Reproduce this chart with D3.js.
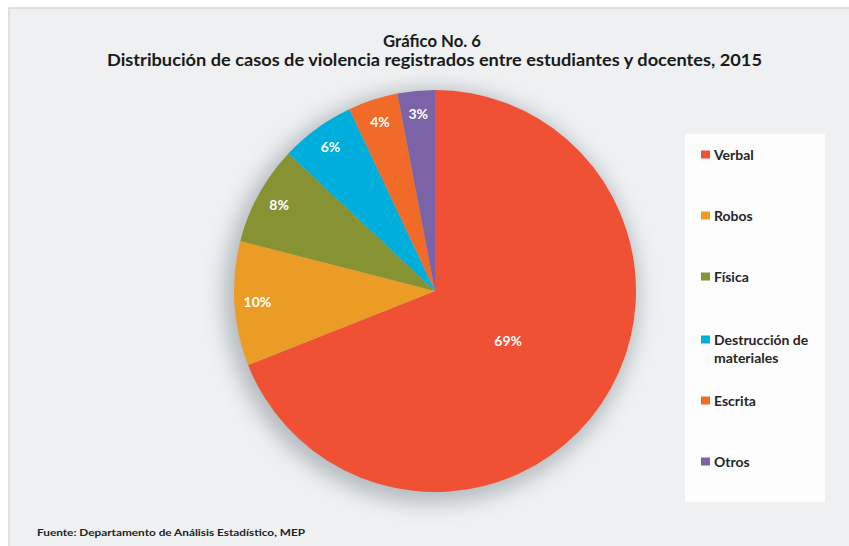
<!DOCTYPE html>
<html><head><meta charset="utf-8">
<script src="https://cdn.jsdelivr.net/npm/d3@7"></script>
<style>html,body{margin:0;padding:0;background:#fff;}svg{display:block;}</style>
</head><body>
<script>
const categories = ["Verbal","Robos","Física","Destrucción de materiales","Escrita","Otros"];
const legendLines = [["Verbal"],["Robos"],["Física"],["Destrucción de","materiales"],["Escrita"],["Otros"]];
const values = [69,10,8,6,4,3];
const colors = ["#f05134","#eb9c25","#879233","#00aedb","#f26a28","#7a63a6"];
const title1 = "Gráfico No. 6";
const title2 = "Distribución de casos de violencia registrados entre estudiantes y docentes, 2015";
const source = "Fuente: Departamento de Análisis Estadístico, MEP";

const W = 849, H = 546;
const svg = d3.select("body").append("svg").attr("width", W).attr("height", H);
const font = "Lato, 'Open Sans', sans-serif";

const defs = svg.append("defs");
const f = defs.append("filter").attr("id","shadow").attr("x","-30%").attr("y","-30%").attr("width","160%").attr("height","160%");
f.append("feGaussianBlur").attr("stdDeviation", 10);

svg.append("rect").attr("x",9).attr("y",8).attr("width",W).attr("height",H)
  .attr("fill","#eef0f1").attr("stroke","#d5d7d9").attr("stroke-width",1.5);

svg.append("text").attr("x",432).attr("y",47).attr("text-anchor","middle")
  .attr("font-family",font).attr("font-weight",700).attr("font-size",17).attr("fill","#1a1a1a")
  .attr("textLength",98).attr("lengthAdjust","spacingAndGlyphs").text(title1);
svg.append("text").attr("x",434.5).attr("y",66).attr("text-anchor","middle")
  .attr("font-family",font).attr("font-weight",700).attr("font-size",17).attr("fill","#1a1a1a")
  .attr("textLength",655).attr("lengthAdjust","spacingAndGlyphs").text(title2);

const cx = 435, cy = 291, R = 201;
const g = svg.append("g").attr("transform",`translate(${cx},${cy})`);
g.append("circle").attr("cx",-4).attr("cy",5).attr("r",R+6).attr("fill","#a9b0b6").attr("opacity",0.85).attr("filter","url(#shadow)");

const pie = d3.pie().sort(null).value(d=>d)(values);
const arc = d3.arc().innerRadius(0).outerRadius(R);
g.selectAll("path.slice").data(pie).join("path").attr("class","slice")
  .attr("d",arc).attr("fill",(d,i)=>colors[i]);

const inner = d3.arc().innerRadius(0).outerRadius(R*0.44*2);
const outer = d3.arc().innerRadius(0).outerRadius(R*0.885*2);
g.selectAll("text.lbl").data(pie).join("text").attr("class","lbl")
  .attr("transform",d=>{
    const c = (d.value > 50 ? inner : outer).centroid(d);
    return `translate(${c[0]},${c[1]})`;
  })
  .attr("text-anchor","middle").attr("dy","0.35em")
  .attr("font-family",font).attr("font-weight",700).attr("font-size",14).attr("fill","#fff")
  .text(d=>d.value+"%");

svg.append("rect").attr("x",685).attr("y",134).attr("width",140).attr("height",368).attr("fill","#fdfdfd");
const legY = [155,216,277,340,401,462];
const lg = svg.append("g");
categories.forEach((c,i)=>{
  lg.append("rect").attr("x",701).attr("y",legY[i]-4.5).attr("width",9).attr("height",8).attr("fill",colors[i]);
  legendLines[i].forEach((t,j)=>{
    lg.append("text").attr("x",714).attr("y",legY[i]+5+j*18)
      .attr("font-family",font).attr("font-weight",700).attr("font-size",14).attr("fill","#262626").text(t);
  });
});

svg.append("text").attr("x",37).attr("y",536)
  .attr("font-family",font).attr("font-weight",700).attr("font-size",10).attr("fill","#222")
  .attr("textLength",268).attr("lengthAdjust","spacingAndGlyphs").text(source);
</script>
</body></html>
